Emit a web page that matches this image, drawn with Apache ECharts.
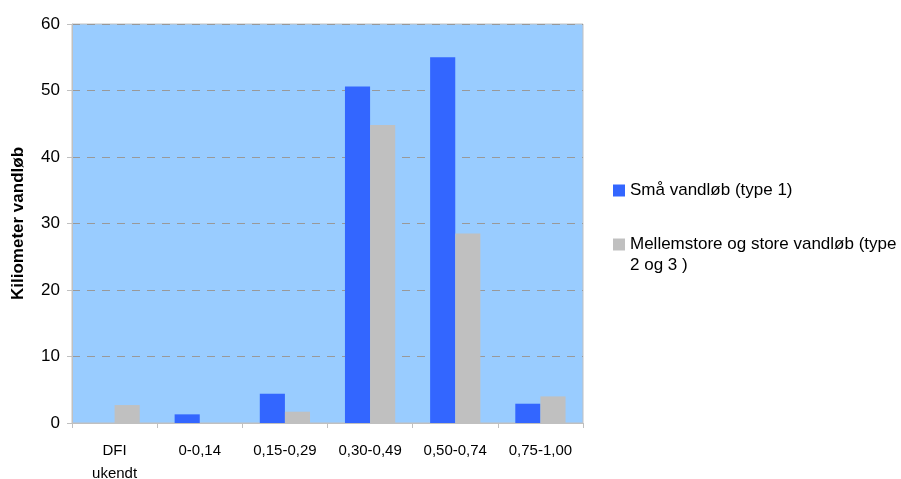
<!DOCTYPE html>
<html>
<head>
<meta charset="utf-8">
<script src="https://cdn.jsdelivr.net/npm/echarts@6/dist/echarts.min.js"></script>
<style>html,body{margin:0;padding:0;background:#fff;overflow:hidden}#c{width:901px;height:479px}</style>
</head>
<body>
<div id="c"></div>
<script>
var categories = ['DFI\nukendt', '0-0,14', '0,15-0,29', '0,30-0,49', '0,50-0,74', '0,75-1,00'];
var smaVandlob = [0, 1.3, 4.4, 50.6, 55.0, 2.9];
var mellemStore = [2.7, 0, 1.7, 44.8, 28.5, 4.0];
var seriesNames = ['Små vandløb (type 1)', 'Mellemstore og store vandløb (type\n2 og 3 )'];
var yAxisTitle = 'Kiliometer vandløb';

var chart = echarts.init(document.getElementById('c'), null, {renderer: 'canvas'});
var font = 'Liberation Sans, Arial, sans-serif';
var legendText = {fontFamily: font, fontSize: 17, color: '#000', lineHeight: 21};
chart.setOption({
  animation: false,
  textStyle: {fontFamily: font},
  grid: {left: 72, right: 318, top: 24, bottom: 56, containLabel: false, outerBoundsMode: 'none', show: true, backgroundColor: '#99CCFF', borderColor: '#C0C0C0', borderWidth: 1},
  legend: [
    {
      orient: 'vertical', left: 608, top: 175, itemWidth: 12, itemHeight: 12, icon: 'rect',
      textStyle: legendText, data: [seriesNames[0]]
    },
    {
      orient: 'vertical', left: 608, top: 208, itemWidth: 12, itemHeight: 12, icon: 'rect',
      textStyle: legendText, data: [seriesNames[1]],
      formatter: function (n) { return ' \n' + n; }
    }
  ],
  xAxis: {
    type: 'category', data: categories,
    axisLine: {lineStyle: {color: '#C0C0C0', width: 1}},
    axisTick: {show: true, alignWithLabel: false, length: 5, lineStyle: {color: '#C0C0C0'}},
    axisLabel: {color: '#000', fontSize: 15, fontFamily: font, margin: 16, lineHeight: 23, interval: 0}
  },
  yAxis: {
    type: 'value', min: 0, max: 60, interval: 10,
    name: yAxisTitle, nameLocation: 'middle', nameGap: 45,
    nameTextStyle: {fontFamily: font, fontSize: 17, fontWeight: 'bold', color: '#000'},
    axisLine: {show: true, lineStyle: {color: '#C0C0C0'}},
    axisTick: {show: true, length: 5, lineStyle: {color: '#C0C0C0'}},
    axisLabel: {color: '#000', fontSize: 17, fontFamily: font, margin: 12},
    splitLine: {show: true, lineStyle: {color: '#999999', type: [8, 7], width: 1}}
  },
  series: [
    {name: seriesNames[0], type: 'bar', data: smaVandlob, itemStyle: {color: '#3366FF'}, barGap: '0%', barCategoryGap: '41%'},
    {name: seriesNames[1], type: 'bar', data: mellemStore, itemStyle: {color: '#C0C0C0'}, barGap: '0%', barCategoryGap: '41%'}
  ]
});
</script>
</body>
</html>
